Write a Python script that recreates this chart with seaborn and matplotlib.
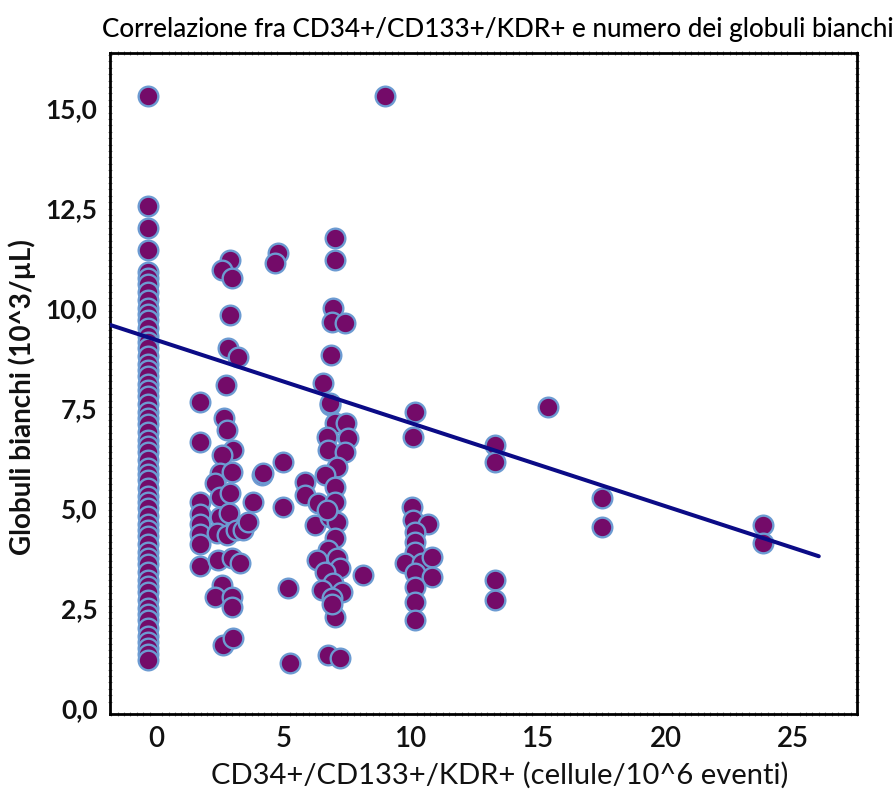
import numpy as np
import pandas as pd
import matplotlib
matplotlib.use("Agg")
import matplotlib.pyplot as plt
from matplotlib.ticker import MultipleLocator, FixedLocator, FixedFormatter
import seaborn as sns

# CD34+/CD133+/KDR+ count (cells per 10^6 events) and white blood cell count (10^3/uL)
zero_x = -0.3
zero_y = [15.3, 12.55, 12.0, 11.45, 10.9, 10.75, 10.6, 10.4, 10.2, 10.0, 9.85, 9.7,
          9.5, 9.3, 9.15, 9.0, 8.8, 8.6, 8.45, 8.3, 8.1, 7.95, 7.8, 7.6, 7.4, 7.25,
          7.1, 6.9, 6.7, 6.55, 6.4, 6.2, 6.0, 5.85, 5.7, 5.5, 5.3, 5.15, 5.0, 4.8,
          4.6, 4.45, 4.3, 4.1, 3.9, 3.75, 3.6, 3.4, 3.2, 3.05, 2.9, 2.7, 2.5, 2.35,
          2.2, 2.0, 1.8, 1.65, 1.5, 1.35, 1.2]

low_x = [1.73, 1.73, 1.73, 1.73, 1.73, 1.73, 1.73, 1.73,
         2.75, 2.67, 2.78, 3.02, 2.59, 2.5, 2.98, 2.31, 2.5, 2.9, 4.16, 3.8,
         2.5, 2.86, 2.39, 2.78, 3.16, 3.4, 3.6, 2.43, 2.98, 3.3, 2.59, 2.31,
         2.98, 2.98, 2.63, 3.02, 2.9, 2.59, 2.98, 2.9, 2.82, 3.22, 4.8, 4.67]
low_y = [7.65, 6.65, 5.15, 4.85, 4.6, 4.35, 4.1, 3.55,
         8.07, 7.25, 6.95, 6.45, 6.33, 5.87, 5.9, 5.62, 5.28, 5.37, 5.83, 5.15,
         4.78, 4.87, 4.37, 4.32, 4.45, 4.45, 4.65, 3.7, 3.75, 3.62, 3.07, 2.78,
         2.78, 2.53, 1.57, 1.75, 11.2, 10.95, 10.75, 9.82, 9.0, 8.78, 11.37, 11.12]

mid_x = [7.02, 7.02, 6.94, 6.9, 7.41, 6.86, 6.55, 6.82, 7.02, 7.45, 6.7, 7.53,
         6.75, 7.41, 7.1, 6.63, 7.02, 4.98, 4.2, 5.84, 5.84, 4.98, 6.35, 7.02,
         6.24, 6.82, 7.1, 7.02, 6.75, 6.31, 7.1, 7.22, 6.63, 8.12, 6.94, 6.51,
         7.29, 6.9, 5.18, 7.02, 6.75, 7.22, 5.25, 6.82, 6.7, 6.9]
mid_y = [11.75, 11.2, 10.0, 9.65, 9.62, 8.82, 8.12, 7.57, 7.12, 7.12, 6.78, 6.75,
         6.45, 6.4, 6.03, 5.83, 5.53, 6.15, 5.87, 5.65, 5.33, 5.03, 5.12, 5.15,
         4.57, 4.78, 4.65, 4.25, 3.95, 3.7, 3.75, 3.5, 3.4, 3.32, 3.12, 2.95,
         2.9, 2.75, 3.0, 2.28, 1.32, 1.25, 1.12, 7.62, 4.95, 2.6]

high_x = [9.0, 10.16, 10.08, 10.04, 10.08, 10.67, 10.16, 10.16, 10.16, 9.76,
          10.43, 10.82, 10.16, 10.82, 10.16, 10.16, 10.16,
          15.37, 13.3, 13.3, 17.49, 17.49, 13.3, 13.3, 23.8, 23.8]
high_y = [15.3, 7.4, 6.78, 5.03, 4.7, 4.6, 4.4, 4.15, 3.9, 3.62,
          3.62, 3.78, 3.37, 3.27, 3.03, 2.65, 2.2,
          7.52, 6.57, 6.15, 5.25, 4.53, 3.2, 2.7, 4.58, 4.12]

# Fitted regression line
fit_intercept = 9.2
fit_slope = -0.208
fit_x_range = [-1.8, 26.0]

x_ticks = [0, 5, 10, 15, 20, 25]
x_tick_labels = ["0", "5", "10", "15", "20", "25"]
y_ticks = [0.0, 2.5, 5.0, 7.5, 10.0, 12.5, 15.0]
y_tick_labels = ["0,0", "2,5", "5,0", "7,5", "10,0", "12,5", "15,0"]

title = "Correlazione fra CD34+/CD133+/KDR+ e numero dei globuli bianchi"
x_label = "CD34+/CD133+/KDR+ (cellule/10^6 eventi)"
y_label = "Globuli bianchi (10^3/µL)"

cells = ([zero_x] * len(zero_y)) + low_x + mid_x + high_x
wbc = zero_y + low_y + mid_y + high_y
df = pd.DataFrame({"cells": cells, "wbc": wbc})

fit_df = pd.DataFrame({"cells": fit_x_range})
fit_df["wbc"] = fit_intercept + fit_slope * fit_df["cells"]

sns.set_theme(style="white")
plt.rcParams["font.family"] = ["Lato", "DejaVu Sans"]

fig = plt.figure(figsize=(8.96, 7.89), dpi=100)
ax = fig.add_axes([0.1228, 0.0951, 0.9565 - 0.1228, 0.9328 - 0.0951])

sns.scatterplot(data=df, x="cells", y="wbc", ax=ax, s=200,
                color="#740b69", edgecolor="#6c9bd2", linewidth=1.7,
                zorder=3, legend=False)
sns.lineplot(data=fit_df, x="cells", y="wbc", ax=ax, color="#0b0b86",
             linewidth=2.9, zorder=4)

ax.set_xlim(-1.8, 27.5)
ax.set_ylim(-0.15, 16.37)

ax.xaxis.set_major_locator(FixedLocator(x_ticks))
ax.xaxis.set_major_formatter(FixedFormatter(x_tick_labels))
ax.yaxis.set_major_locator(FixedLocator(y_ticks))
ax.yaxis.set_major_formatter(FixedFormatter(y_tick_labels))
ax.xaxis.set_minor_locator(MultipleLocator(0.25))
ax.yaxis.set_minor_locator(MultipleLocator(0.16))

for side in ["left", "right", "top", "bottom"]:
    ax.spines[side].set_visible(True)
    ax.spines[side].set_color("black")
    ax.spines[side].set_linewidth(2.0)

ax.tick_params(axis="x", which="major", length=0, pad=9,
               labelsize=20, labelcolor="#111111")
ax.tick_params(axis="y", which="major", length=0, pad=9,
               labelsize=19, labelcolor="#111111")
for lbl in ax.get_yticklabels():
    lbl.set_fontweight("bold")
for lbl in ax.get_xticklabels():
    lbl.set_fontweight("semibold")
ax.tick_params(which="minor", length=2.5, width=0.8, color="#888888",
               direction="inout", top=True, right=True, bottom=True, left=True)

ax.set_xlabel(x_label, fontsize=21, color="#111111")
ax.set_ylabel(y_label, fontsize=20, color="#111111", fontweight="bold")
ax.xaxis.set_label_coords(0.522, -0.093)
ax.yaxis.set_label_coords(-0.118, 0.48)
ax.xaxis.label.set_va("center")
ax.yaxis.label.set_va("center")

fig.text(0.556, 0.962, title, ha="center", va="center", fontsize=18.8,
         color="#000000", fontweight="medium")

fig.savefig("out.png", dpi=100)
